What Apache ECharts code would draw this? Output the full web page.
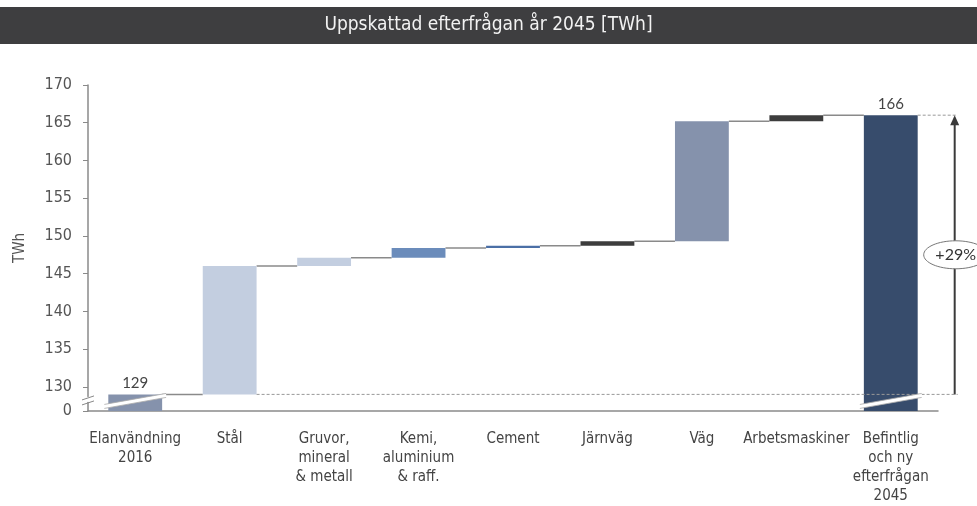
<!DOCTYPE html>
<html lang="sv">
<head>
<meta charset="UTF-8">
<title>Uppskattad efterfrågan år 2045</title>
<script src="https://cdn.jsdelivr.net/npm/echarts@6/dist/echarts.min.js"></script>
<style>
  html, body { margin: 0; padding: 0; background: #fff; }
  #main { width: 977px; height: 506px; }
</style>
</head>
<body>
<div id="main"></div>
<script>
// --- data ---
const categories = ['Elanvändning\n2016', 'Stål', 'Gruvor,\nmineral\n& metall', 'Kemi,\naluminium\n& raff.',
  'Cement', 'Järnväg', 'Väg', 'Arbetsmaskiner', 'Befintlig\noch ny\nefterfrågan\n2045'];
const barBottoms = [0, 129, 146, 147.1, 148.4, 148.7, 149.3, 165.2, 0];
const barTops = [129, 146, 147.1, 148.4, 148.7, 149.3, 165.2, 166, 166];
const barColors = ['#8592ac', '#c3cee0', '#c3cee0', '#6b8cbb', '#4b6fa6', '#3d3d3d', '#8592ac', '#3d3d3d', '#374c6c'];
const yTicks = [126.8, 130, 135, 140, 145, 150, 155, 160, 165, 170];
const startValue = 129, endValue = 166;
const changeLabel = '+29%';

const narrow = "'Liberation Sans Narrow', 'DejaVu Sans Condensed', sans-serif";
const BAR_RATIO = 0.57;

let chart = echarts.init(document.getElementById('main'));

// connectors between consecutive bars (at top of each bar)
function renderConnector(params, api) {
    let i = api.value(0), level = api.value(1);
    let a = api.coord([i, level]), b = api.coord([i + 1, level]);
    let half = api.size([1, 0])[0] * BAR_RATIO / 2;
    return {
        type: 'line',
        shape: { x1: a[0] + half, y1: a[1], x2: b[0] - half, y2: b[1] },
        style: { stroke: '#8a8a8a', lineWidth: 1.5 }
    };
}

// dashed reference lines, arrow, +29% bubble, axis breaks
function renderNotes(params, api) {
    let half = api.size([1, 0])[0] * BAR_RATIO / 2;
    let last = categories.length - 1;
    let s0 = api.coord([1, startValue]);
    let e0 = api.coord([last, endValue]);
    let arrowX = e0[0] + half + 37;
    let yStart = s0[1], yEnd = e0[1];
    let yMid = (yStart + yEnd) / 2;
    let kids = [];
    kids.push({ type: 'line', shape: { x1: s0[0] + half, y1: yStart, x2: arrowX + 3, y2: yStart },
        style: { stroke: '#999', lineWidth: 1, lineDash: [3, 2] }, z2: 20 });
    kids.push({ type: 'line', shape: { x1: e0[0] + half, y1: yEnd, x2: arrowX + 3, y2: yEnd },
        style: { stroke: '#999', lineWidth: 1, lineDash: [3, 2] } });
    kids.push({ type: 'line', shape: { x1: arrowX, y1: yStart, x2: arrowX, y2: yEnd + 8 },
        style: { stroke: '#3a3a3a', lineWidth: 2 } });
    kids.push({ type: 'polygon', shape: { points: [[arrowX, yEnd], [arrowX - 4.5, yEnd + 10], [arrowX + 4.5, yEnd + 10]] },
        style: { fill: '#3a3a3a' } });
    kids.push({ type: 'ellipse', shape: { cx: arrowX + 1, cy: yMid, rx: 32, ry: 14 },
        style: { fill: '#fff', stroke: '#777', lineWidth: 1 } });
    kids.push({ type: 'text', x: arrowX + 1, y: yMid,
        style: { text: changeLabel, fill: '#333', font: '16px Lato, sans-serif', align: 'center', verticalAlign: 'middle' } });

    // break marks across first and last bars
    [0, last].forEach(function (i) {
        let c = api.coord([i, 128.2]);
        let x1 = c[0] - half - 4, x2 = c[0] + half + 4;
        let y1 = c[1] + 6, y2 = c[1] - 5;
        kids.push({ type: 'polygon', shape: { points: [[x1, y1 + 2], [x2, y2 + 2], [x2, y2 - 2], [x1, y1 - 2]] },
            style: { fill: '#fff' }, z2: 30 });
        kids.push({ type: 'line', shape: { x1: x1, y1: y1 - 2, x2: x2, y2: y2 - 2 },
            style: { stroke: '#aaa', lineWidth: 0.8 }, z2: 31 });
        kids.push({ type: 'line', shape: { x1: x1, y1: y1 + 2, x2: x2, y2: y2 + 2 },
            style: { stroke: '#aaa', lineWidth: 0.8 }, z2: 31 });
    });

    // break mark on the y axis
    let ax = api.coord([0, 128.4]);
    let axisX = ax[0] - api.size([1, 0])[0] / 2;
    kids.push({ type: 'rect', shape: { x: axisX - 2, y: ax[1] - 2, width: 4, height: 5 }, style: { fill: '#fff' }, z2: 30 });
    kids.push({ type: 'line', shape: { x1: axisX - 6, y1: ax[1] + 1, x2: axisX + 6, y2: ax[1] - 3 },
        style: { stroke: '#888', lineWidth: 1 }, z2: 31 });
    kids.push({ type: 'line', shape: { x1: axisX - 6, y1: ax[1] + 6, x2: axisX + 6, y2: ax[1] + 2 },
        style: { stroke: '#888', lineWidth: 1 }, z2: 31 });
    return { type: 'group', children: kids };
}

let option = {
    animation: false,
    graphic: [{
        type: 'rect', left: 0, top: 7, shape: { width: 977, height: 37 },
        style: { fill: '#3e3e40' }, z: 0
    }, {
        type: 'text', left: 'center', top: 16,
        style: { text: 'Uppskattad efterfrågan år 2045 [TWh]', fill: '#f2f2f2', font: '19px ' + narrow }, z: 1
    }],
    grid: { left: 88, right: 39, top: 85, bottom: 94 },
    xAxis: {
        type: 'category',
        data: categories,
        axisLine: { lineStyle: { color: '#8a8a8a', width: 1.5 } },
        axisTick: { show: false },
        axisLabel: { interval: 0, color: '#444', fontFamily: narrow, fontSize: 15, lineHeight: 19, margin: 19 }
    },
    yAxis: {
        type: 'value',
        min: 126.8,
        max: 170,
        name: 'TWh',
        nameLocation: 'middle',
        nameGap: 60,
        nameTextStyle: { color: '#555', fontFamily: narrow, fontSize: 15 },
        splitLine: { show: false },
        axisLine: { show: true, lineStyle: { color: '#8a8a8a', width: 1.5 } },
        axisTick: { show: true, length: 5, customValues: yTicks, lineStyle: { color: '#8a8a8a' } },
        axisLabel: {
            customValues: yTicks, color: '#555', fontFamily: narrow, fontSize: 16, margin: 16,
            formatter: function (v) { return v < 130 ? '0' : String(v); }
        }
    },
    series: [{
        type: 'bar',
        stack: 'fall',
        barWidth: (BAR_RATIO * 100) + '%',
        itemStyle: { color: 'transparent' },
        emphasis: { disabled: true },
        data: barBottoms
    }, {
        type: 'bar',
        stack: 'fall',
        barWidth: (BAR_RATIO * 100) + '%',
        data: barTops.map(function (t, i) {
            return {
                value: +(t - barBottoms[i]).toFixed(2),
                itemStyle: { color: barColors[i] },
                label: {
                    show: i === 0 || i === categories.length - 1,
                    position: 'top',
                    distance: 4,
                    formatter: String(barTops[i]),
                    color: '#444',
                    fontFamily: 'Lato, sans-serif',
                    fontSize: 15
                }
            };
        })
    }, {
        type: 'custom',
        renderItem: renderConnector,
        z: 1,
        data: barTops.slice(0, categories.length - 1).map(function (t, i) { return [i, t]; })
    }, {
        type: 'custom',
        renderItem: renderNotes,
        z: 5,
        data: [[0, startValue]]
    }]
};
chart.setOption(option);
</script>
</body>
</html>
